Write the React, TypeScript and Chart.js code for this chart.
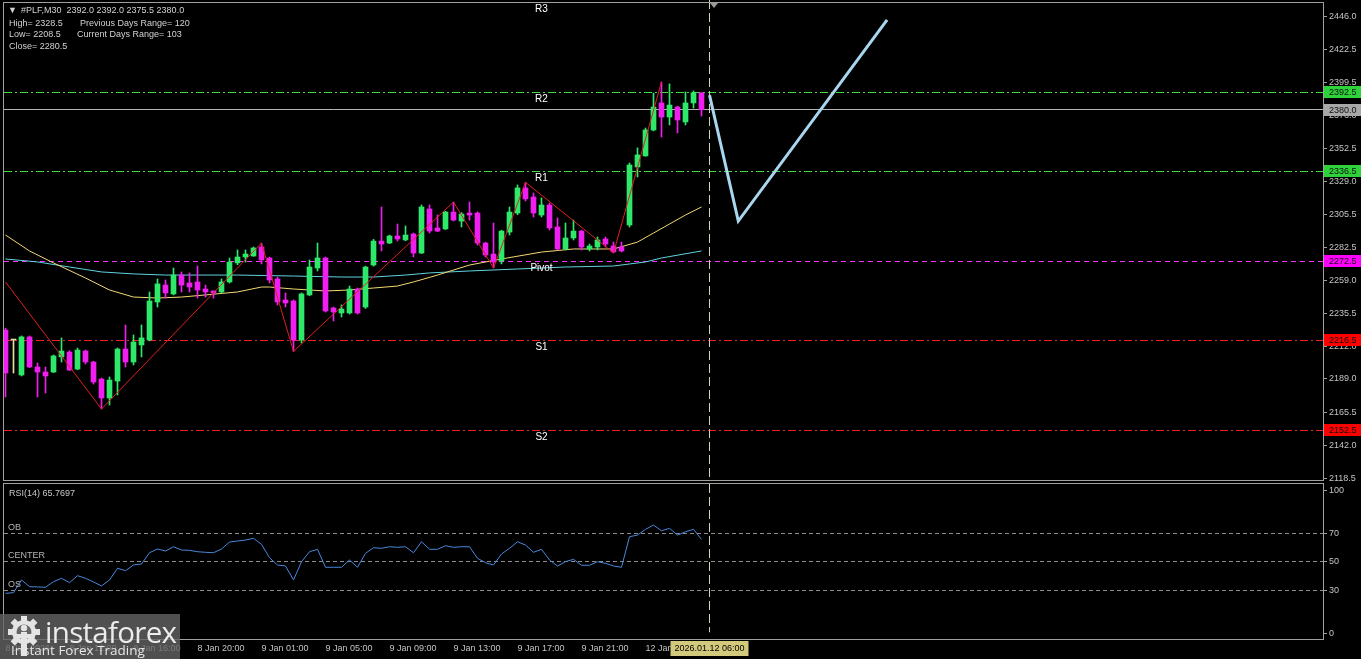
import React, { useEffect, useRef } from "react";
import { Chart, registerables } from "chart.js";

Chart.register(...registerables);

// ---------- candles (M30, #PLF) ----------
const opens = [
  2223.7, 2216.6, 2191.8, 2218.8, 2197.5, 2193.9, 2193.9, 2204.6, 2208.1, 2196.0,
  2208.8, 2201.0, 2188.9, 2175.5, 2187.5, 2210.2, 2201.0, 2213.1, 2216.6, 2243.6,
  2255.6, 2249.3, 2262.7, 2257.1, 2257.8, 2252.8, 2251.4, 2250.7, 2257.8, 2271.3,
  2275.5, 2276.2, 2282.6, 2274.8, 2259.9, 2245.0, 2244.3, 2216.6, 2248.6, 2267.7,
  2274.8, 2239.3, 2235.8, 2235.8, 2252.8, 2240.0, 2269.8, 2286.8, 2285.4, 2290.4,
  2287.6, 2291.8, 2278.3, 2309.6, 2296.1, 2295.4, 2307.4, 2301.0, 2306.7, 2306.7,
  2285.4, 2277.6, 2272.7, 2293.2, 2306.7, 2324.5, 2318.1, 2305.3, 2312.4, 2296.8,
  2281.2, 2289.0, 2293.9, 2281.2, 2282.6, 2288.3, 2283.3, 2282.6, 2298.2, 2339.4,
  2347.2, 2365.6, 2384.8, 2374.8, 2381.9, 2371.3, 2384.8, 2392.0,
];
const highs = [
  2225.0, 2216.6, 2219.5, 2219.5, 2200.3, 2197.5, 2206.0, 2218.1, 2209.0, 2210.9,
  2209.5, 2201.5, 2189.6, 2190.4, 2211.0, 2227.3, 2220.2, 2227.3, 2250.7, 2259.9,
  2259.2, 2267.7, 2264.9, 2264.2, 2269.1, 2255.6, 2251.4, 2259.9, 2274.8, 2280.5,
  2280.5, 2282.6, 2285.4, 2275.5, 2261.3, 2250.0, 2245.0, 2250.0, 2273.4, 2285.4,
  2275.5, 2240.0, 2241.5, 2254.9, 2253.5, 2269.0, 2288.0, 2311.0, 2291.0, 2298.9,
  2297.5, 2292.5, 2312.4, 2312.4, 2305.3, 2308.0, 2314.5, 2307.0, 2314.5, 2307.5,
  2286.0, 2299.6, 2294.5, 2311.0, 2326.6, 2328.5, 2320.9, 2317.4, 2313.8, 2303.2,
  2299.6, 2301.7, 2294.5, 2284.7, 2289.7, 2289.7, 2286.1, 2286.1, 2342.2, 2352.9,
  2367.0, 2391.8, 2399.7, 2398.3, 2382.5, 2392.6, 2393.3, 2392.0,
];
const lows = [
  2176.2, 2193.2, 2191.1, 2197.0, 2176.2, 2179.0, 2193.5, 2201.0, 2195.0, 2195.5,
  2199.6, 2185.4, 2167.7, 2170.5, 2177.6, 2197.5, 2198.9, 2204.6, 2216.0, 2240.0,
  2246.4, 2248.6, 2250.7, 2250.7, 2246.4, 2247.1, 2246.4, 2250.0, 2257.0, 2270.0,
  2271.9, 2276.0, 2270.6, 2257.1, 2241.5, 2240.0, 2208.5, 2214.5, 2248.0, 2265.6,
  2236.5, 2230.1, 2232.9, 2235.0, 2235.0, 2239.0, 2269.0, 2279.8, 2285.0, 2286.8,
  2287.0, 2275.5, 2278.0, 2292.5, 2293.5, 2295.0, 2301.0, 2296.8, 2301.7, 2284.0,
  2275.5, 2267.7, 2270.6, 2291.1, 2305.5, 2315.3, 2303.9, 2303.9, 2294.7, 2280.5,
  2280.5, 2287.6, 2280.5, 2279.8, 2280.5, 2282.6, 2278.4, 2279.1, 2296.8, 2332.3,
  2347.0, 2365.0, 2360.6, 2369.2, 2363.5, 2369.2, 2381.2, 2375.5,
];
const closes = [
  2193.2, 2216.6, 2218.8, 2197.5, 2193.9, 2191.1, 2205.3, 2208.8, 2195.3, 2209.5,
  2201.0, 2186.8, 2175.5, 2188.2, 2210.2, 2201.0, 2215.2, 2218.1, 2244.3, 2256.4,
  2250.0, 2262.7, 2255.6, 2254.2, 2252.1, 2250.7, 2250.0, 2257.8, 2271.9, 2275.5,
  2277.6, 2281.9, 2273.4, 2259.2, 2243.6, 2242.9, 2216.6, 2249.3, 2268.4, 2274.8,
  2237.2, 2236.5, 2238.6, 2252.8, 2235.8, 2268.4, 2286.8, 2284.7, 2290.4, 2288.3,
  2291.1, 2278.3, 2311.0, 2293.9, 2293.9, 2307.4, 2301.7, 2306.0, 2305.3, 2285.4,
  2276.9, 2271.9, 2293.9, 2307.4, 2324.5, 2316.7, 2306.7, 2312.4, 2296.1, 2281.2,
  2289.0, 2293.9, 2282.6, 2283.3, 2287.6, 2284.7, 2279.1, 2279.8, 2340.8, 2347.9,
  2365.6, 2381.9, 2374.8, 2383.3, 2372.7, 2384.8, 2392.0, 2380.0,
];

// ---------- moving averages (sampled at bar indices) ----------
const maYellowIdx = [0, 3, 6, 10, 13, 16, 19, 22, 25, 29, 32, 33, 36, 40, 43, 46, 49, 51, 54, 58, 62, 67, 71, 76, 79, 81, 83, 85, 87];
const maYellowVals = [2291.1, 2279.8, 2271.3, 2260.6, 2252.1, 2247.1, 2246.4, 2247.1, 2248.6, 2250.7, 2254.2, 2254.2, 2252.8, 2251.4, 2252.1, 2253.5, 2254.9, 2257.8, 2262.7, 2269.8, 2274.1, 2279.0, 2281.2, 2281.2, 2286.1, 2292.5, 2298.9, 2305.3, 2311.0];
const maCyanIdx = [0, 4, 8, 12, 16, 20, 29, 36, 42, 46, 50, 53, 58, 64, 70, 76, 80, 82, 87];
const maCyanVals = [2274.1, 2272.0, 2268.4, 2264.9, 2263.5, 2262.7, 2262.7, 2262.0, 2261.3, 2261.3, 2262.7, 2264.2, 2265.6, 2267.0, 2268.4, 2269.1, 2272.0, 2274.8, 2279.8];

// ---------- zigzag ----------
const zigzagIdx = [0, 12, 32, 36, 56, 61, 65, 76, 82];
const zigzagVals = [2257.8, 2167.7, 2285.4, 2208.5, 2314.5, 2267.7, 2328.5, 2278.4, 2399.7];

// ---------- forecast path ----------
const forecastIdx = [88, 91.6, 110.2];
const forecastVals = [2390.4, 2301.0, 2443.7];

// ---------- pivot levels ----------
const levelNames = ["R3", "R2", "R1", "Pivot", "S1", "S2"];
const levelValues = [2456.5, 2392.5, 2336.5, 2272.5, 2216.5, 2152.5];
const levelColors = ["#3ee03e", "#3ee03e", "#3ee03e", "#ff30ff", "#f02020", "#f02020"];
const levelTagColors = ["#2fd23a", "#2fd23a", "#2fd23a", "#ff00ff", "#ff0000", "#ff0000"];

// ---------- axis ticks ----------
const priceTicks = [2446.0, 2422.5, 2399.5, 2376.0, 2352.5, 2329.0, 2305.5, 2282.5, 2259.0, 2235.5, 2212.0, 2189.0, 2165.5, 2142.0, 2118.5];
const rsiTicks = [100, 70, 50, 30, 0];
const rsiLevels = [70, 50, 30];
const rsiLevelNames = ["OB", "CENTER", "OS"];
const xTickIdx = [0, 8, 16, 24, 32, 40, 48, 56, 64, 72, 80];
const xTickLabels = ["8 Jan 2026", "8 Jan 12:00", "8 Jan 16:00", "8 Jan 20:00", "9 Jan 01:00", "9 Jan 05:00", "9 Jan 09:00", "9 Jan 13:00", "9 Jan 17:00", "9 Jan 21:00", "12 Jan 02:00"];

// ---------- RSI(14) ----------
const rsiValues = [
  28.0, 28.5, 37.4, 32.7, 32.5, 32.3, 36.2, 38.6, 35.5, 40.4,
  38.6, 36.0, 33.2, 37.4, 45.6, 43.9, 47.9, 48.6, 56.5, 59.1,
  57.7, 60.7, 58.4, 58.2, 57.2, 56.8, 56.5, 59.1, 64.0, 64.7,
  65.4, 66.6, 62.4, 53.0, 47.9, 47.2, 37.4, 50.2, 57.2, 58.9,
  46.3, 46.3, 46.3, 51.4, 46.3, 56.1, 60.0, 59.6, 60.7, 60.3,
  60.7, 56.5, 64.2, 58.9, 58.9, 61.4, 60.3, 60.7, 60.7, 52.6,
  49.5, 47.9, 55.6, 59.6, 64.2, 61.9, 56.8, 58.9, 51.4, 47.2,
  50.2, 51.9, 47.7, 47.7, 50.2, 49.1, 47.2, 46.3, 67.7, 68.9,
  72.9, 75.9, 71.9, 73.6, 68.9, 71.2, 72.9, 65.8,
];
const rsiLabel = "RSI(14) 65.7697";

// ---------- header ----------
const symbolLabel = "#PLF,M30";
const prevDayHigh = 2328.5;
const prevDayLow = 2208.5;
const prevDayClose = 2280.5;
const prevDaysRange = 120;
const currentDaysRange = 103;
const currentTimeLabel = "2026.01.12 06:00";

const UP = "#2ee86a";
const DOWN = "#f01ef0";
const DOJI = "#e8dca0";
const AXIS = "#a0a0a0";
const TXT = "#c4c4c4";
const FAMILY = '"Liberation Sans", Arial, sans-serif';
const X_MIN = -0.1875;
const X_MAX = 164.6875;

function Logo() {
  const teeth = [0, 45, 90, 135, 180, 225, 270, 315];
  return (
    <div style={{ position: "absolute", left: 0, top: 614, width: 180, height: 45, background: "rgba(100,100,100,0.8)", overflow: "hidden" }}>
      <svg width="38" height="44" viewBox="0 0 38 44" style={{ position: "absolute", left: 5, top: 1 }}>
        <g fill="#e4e4e4">
          {teeth.map((a) => (
            <rect key={a} x="16" y="1" width="6" height="7" transform={`rotate(${a} 19 17)`} />
          ))}
          <circle cx="19" cy="17" r="12" />
        </g>
        <circle cx="19" cy="17" r="7.5" fill="#666" />
        <circle cx="19" cy="13" r="3.2" fill="#e4e4e4" />
        <rect x="16" y="17" width="6" height="24" fill="#e4e4e4" />
        <rect x="10" y="19" width="18" height="4" fill="#e4e4e4" />
      </svg>
      <div style={{ position: "absolute", left: 45, top: -3, fontFamily: '"Open Sans", sans-serif', fontSize: 29.5, color: "#ececec", letterSpacing: -0.7, whiteSpace: "nowrap" }}>
        instaforex
      </div>
      <div style={{ position: "absolute", left: 11, top: 27, fontFamily: '"Open Sans", sans-serif', fontSize: 13.5, color: "#e6e6e6", whiteSpace: "nowrap" }}>
        Instant Forex Trading
      </div>
    </div>
  );
}

export default function App() {
  const mainRef = useRef<HTMLCanvasElement | null>(null);
  const rsiRef = useRef<HTMLCanvasElement | null>(null);

  useEffect(() => {
    const idx = opens.map((_, i) => i);
    const colors = idx.map((i) => (closes[i] > opens[i] ? UP : closes[i] < opens[i] ? DOWN : DOJI));
    const nowIdx = opens.length;
    const lastClose = closes[closes.length - 1];

    const font = (size: number) => `${size}px ${FAMILY}`;

    const mainOverlay: any = {
      id: "mainOverlay",
      beforeDatasetsDraw(chart: any) {
        const { ctx, chartArea: a } = chart;
        const x = chart.scales.x;
        const y = chart.scales.y;
        ctx.save();
        ctx.beginPath();
        ctx.rect(a.left, a.top, a.right - a.left, a.bottom - a.top);
        ctx.clip();
        ctx.lineWidth = 1;
        levelValues.forEach((v, k) => {
          const py = Math.floor(y.getPixelForValue(v)) + 0.5;
          ctx.strokeStyle = levelColors[k];
          ctx.setLineDash(k === 3 ? [5, 4] : [8, 3, 2, 3]);
          ctx.beginPath();
          ctx.moveTo(a.left, py);
          ctx.lineTo(a.right, py);
          ctx.stroke();
        });
        ctx.setLineDash([]);
        ctx.strokeStyle = "#b4b4b4";
        const cp = Math.floor(y.getPixelForValue(lastClose)) + 0.5;
        ctx.beginPath();
        ctx.moveTo(a.left, cp);
        ctx.lineTo(a.right, cp);
        ctx.stroke();
        ctx.restore();

        ctx.save();
        const vx = Math.floor(x.getPixelForValue(nowIdx)) + 0.5;
        ctx.strokeStyle = "#d8d2b4";
        ctx.lineWidth = 1;
        ctx.setLineDash([9, 4]);
        ctx.beginPath();
        ctx.moveTo(vx, 0);
        ctx.lineTo(vx, a.bottom);
        ctx.stroke();
        ctx.restore();
      },
      afterDatasetsDraw(chart: any) {
        const { ctx } = chart;
        const x = chart.scales.x;
        const y = chart.scales.y;
        ctx.save();
        ctx.fillStyle = "#ffffff";
        ctx.font = font(10);
        ctx.textAlign = "center";
        ctx.textBaseline = "middle";
        const lx = x.getPixelForValue(67);
        levelValues.forEach((v, k) => {
          const py = Math.max(y.getPixelForValue(v) + 7, 7);
          ctx.fillText(levelNames[k], lx, py);
        });
        ctx.restore();
      },
      afterDraw(chart: any) {
        const { ctx, chartArea: a } = chart;
        const x = chart.scales.x;
        const y = chart.scales.y;
        ctx.save();
        // price tags
        ctx.font = font(9);
        ctx.textBaseline = "middle";
        ctx.textAlign = "left";
        const tags = levelValues.map((v, k) => ({ v, c: levelTagColors[k] })).filter((t) => t.v < y.max);
        tags.push({ v: lastClose, c: "#a8a8a8" });
        tags.forEach((t) => {
          const py = y.getPixelForValue(t.v);
          ctx.fillStyle = t.c;
          ctx.fillRect(a.right + 1, Math.round(py) - 6, 37, 12);
          ctx.fillStyle = "#101010";
          ctx.fillText(t.v.toFixed(1), a.right + 6, py + 0.5);
        });
        // frame
        ctx.strokeStyle = AXIS;
        ctx.lineWidth = 1;
        ctx.strokeRect(a.left - 0.5, a.top - 0.5, a.right - a.left + 1, a.bottom - a.top + 1);
        // shift marker
        const mx = x.getPixelForValue(nowIdx) + 4.5;
        ctx.fillStyle = "#9a9a9a";
        ctx.beginPath();
        ctx.moveTo(mx - 4, 3);
        ctx.lineTo(mx + 4, 3);
        ctx.lineTo(mx, 8);
        ctx.closePath();
        ctx.fill();
        // header
        ctx.fillStyle = "#d2d2d2";
        ctx.font = font(9);
        ctx.textBaseline = "middle";
        ctx.fillText("\u25BC", 8, 11);
        const o = opens[opens.length - 1], h = highs[highs.length - 1], l = lows[lows.length - 1];
        ctx.fillText(`${symbolLabel}  ${o.toFixed(1)} ${h.toFixed(1)} ${l.toFixed(1)} ${lastClose.toFixed(1)}`, 21, 11);
        ctx.fillText(`High= ${prevDayHigh.toFixed(1)}`, 9, 24);
        ctx.fillText(`Previous Days Range= ${prevDaysRange}`, 80, 24);
        ctx.fillText(`Low= ${prevDayLow.toFixed(1)}`, 9, 35);
        ctx.fillText(`Current Days Range= ${currentDaysRange}`, 77, 35);
        ctx.fillText(`Close= ${prevDayClose.toFixed(1)}`, 9, 47);
        ctx.restore();
      },
    };

    const lineDs = (xs: number[], ys: number[], color: string, width: number, order: number) => ({
      type: "line",
      data: xs.map((v, k) => ({ x: v, y: ys[k] })),
      borderColor: color,
      backgroundColor: color,
      borderWidth: width,
      pointRadius: 0,
      tension: 0,
      fill: false,
      order,
    });

    const mainChart = new Chart(mainRef.current as HTMLCanvasElement, {
      type: "bar",
      data: {
        datasets: [
          lineDs(maCyanIdx, maCyanVals, "#5fd3e0", 1, 9) as any,
          lineDs(maYellowIdx, maYellowVals, "#f2d873", 1, 8) as any,
          {
            type: "bar",
            data: idx.map((i) => ({ x: i, y: [lows[i], highs[i]] })),
            backgroundColor: colors,
            borderWidth: 0,
            barThickness: 1,
            maxBarThickness: 1,
            grouped: false,
            order: 6,
          } as any,
          {
            type: "bar",
            data: idx.map((i) => ({ x: i, y: [opens[i], closes[i]] })),
            backgroundColor: colors,
            borderWidth: 0,
            barThickness: 5,
            maxBarThickness: 5,
            minBarLength: 1,
            grouped: false,
            order: 5,
          } as any,
          lineDs(zigzagIdx, zigzagVals, "#e02020", 1, 3) as any,
          lineDs(forecastIdx, forecastVals, "#a9d6ee", 3, 1) as any,
        ],
      },
      options: {
        responsive: false,
        animation: false,
        devicePixelRatio: 1,
        events: [],
        layout: { padding: { left: 4, top: 3, right: 0, bottom: 10 } },
        plugins: { legend: { display: false }, tooltip: { enabled: false } },
        scales: {
          x: { type: "linear", min: X_MIN, max: X_MAX, offset: false, display: false },
          y: {
            type: "linear",
            position: "right",
            min: 2117.3,
            max: 2455.7,
            beginAtZero: false,
            afterFit: (s: any) => {
              s.width = 38;
              s.paddingTop = 0;
              s.paddingBottom = 0;
            },
            afterBuildTicks: (s: any) => {
              s.ticks = priceTicks.map((v) => ({ value: v }));
            },
            ticks: {
              autoSkip: false,
              color: TXT,
              padding: 2,
              font: { family: FAMILY, size: 9 },
              callback: (v: any) => Number(v).toFixed(1),
            },
            grid: { drawOnChartArea: false, drawTicks: true, tickLength: 4, color: AXIS },
            border: { display: false },
          },
        },
      } as any,
      plugins: [mainOverlay],
    });

    const rsiOverlay: any = {
      id: "rsiOverlay",
      beforeDatasetsDraw(chart: any) {
        const { ctx, chartArea: a } = chart;
        const x = chart.scales.x;
        const y = chart.scales.y;
        ctx.save();
        ctx.strokeStyle = "#8c8c8c";
        ctx.lineWidth = 1;
        ctx.setLineDash([4, 3]);
        rsiLevels.forEach((v) => {
          const py = Math.floor(y.getPixelForValue(v)) + 0.5;
          ctx.beginPath();
          ctx.moveTo(a.left, py);
          ctx.lineTo(a.right, py);
          ctx.stroke();
        });
        const vx = Math.floor(x.getPixelForValue(nowIdx)) + 0.5;
        ctx.strokeStyle = "#d8d2b4";
        ctx.setLineDash([9, 4]);
        ctx.beginPath();
        ctx.moveTo(vx, a.top);
        ctx.lineTo(vx, y.getPixelForValue(0) - 1);
        ctx.stroke();
        ctx.restore();
      },
      afterDraw(chart: any) {
        const { ctx, chartArea: a } = chart;
        const x = chart.scales.x;
        const y = chart.scales.y;
        ctx.save();
        ctx.font = font(9);
        ctx.textBaseline = "middle";
        ctx.textAlign = "left";
        ctx.fillStyle = "#c8c8c8";
        ctx.fillText(rsiLabel, 9, a.top + 10);
        ctx.fillStyle = "#b4b4b4";
        rsiLevels.forEach((v, k) => {
          ctx.fillText(rsiLevelNames[k], 8, y.getPixelForValue(v) - 6);
        });
        ctx.strokeStyle = AXIS;
        ctx.lineWidth = 1;
        ctx.strokeRect(a.left - 0.5, a.top - 0.5, a.right - a.left + 1, a.bottom - a.top + 1);
        // current time tag
        const vx = Math.floor(x.getPixelForValue(nowIdx)) + 0.5;
        ctx.fillStyle = "#d2c97c";
        ctx.fillRect(vx - 39, a.bottom + 2, 78, 15);
        ctx.fillStyle = "#000";
        ctx.textAlign = "center";
        ctx.fillText(currentTimeLabel, vx, a.bottom + 9.5);
        ctx.restore();
      },
    };

    const rsiChart = new Chart(rsiRef.current as HTMLCanvasElement, {
      type: "line",
      data: {
        datasets: [
          {
            data: idx.map((i) => ({ x: i, y: rsiValues[i] })),
            borderColor: "#4a88dc",
            borderWidth: 1,
            pointRadius: 0,
            tension: 0,
            fill: false,
          },
        ],
      },
      options: {
        responsive: false,
        animation: false,
        devicePixelRatio: 1,
        events: [],
        layout: { padding: { left: 4, top: 2, right: 0, bottom: 0 } },
        plugins: { legend: { display: false }, tooltip: { enabled: false } },
        scales: {
          x: {
            type: "linear",
            min: X_MIN,
            max: X_MAX,
            offset: false,
            position: "bottom",
            afterFit: (s: any) => {
              s.height = 20;
              s.paddingLeft = 0;
              s.paddingRight = 0;
            },
            afterBuildTicks: (s: any) => {
              s.ticks = xTickIdx.map((v) => ({ value: v }));
            },
            ticks: {
              autoSkip: false,
              maxRotation: 0,
              minRotation: 0,
              align: "start",
              padding: 4,
              color: TXT,
              font: { family: FAMILY, size: 9 },
              callback: (v: any) => {
                const k = xTickIdx.indexOf(Number(v));
                return k >= 0 ? xTickLabels[k] : "";
              },
            },
            grid: { drawOnChartArea: false, drawTicks: false },
            border: { display: false },
          },
          y: {
            type: "linear",
            position: "right",
            min: -4.0,
            max: 104.7,
            afterFit: (s: any) => {
              s.width = 38;
              s.paddingTop = 0;
              s.paddingBottom = 0;
            },
            afterBuildTicks: (s: any) => {
              s.ticks = rsiTicks.map((v) => ({ value: v }));
            },
            ticks: {
              autoSkip: false,
              color: TXT,
              padding: 2,
              font: { family: FAMILY, size: 9 },
              callback: (v: any) => String(v),
            },
            grid: { drawOnChartArea: false, drawTicks: true, tickLength: 4, color: AXIS },
            border: { display: false },
          },
        },
      } as any,
      plugins: [rsiOverlay],
    });

    return () => {
      mainChart.destroy();
      rsiChart.destroy();
    };
  }, []);

  return (
    <div style={{ position: "fixed", left: 0, top: 0, width: 1361, height: 659, background: "#000", overflow: "hidden" }}>
      <canvas ref={mainRef} width={1361} height={490} style={{ position: "absolute", left: 0, top: 0 }} />
      <canvas ref={rsiRef} width={1361} height={177} style={{ position: "absolute", left: 0, top: 482 }} />
      <Logo />
    </div>
  );
}
